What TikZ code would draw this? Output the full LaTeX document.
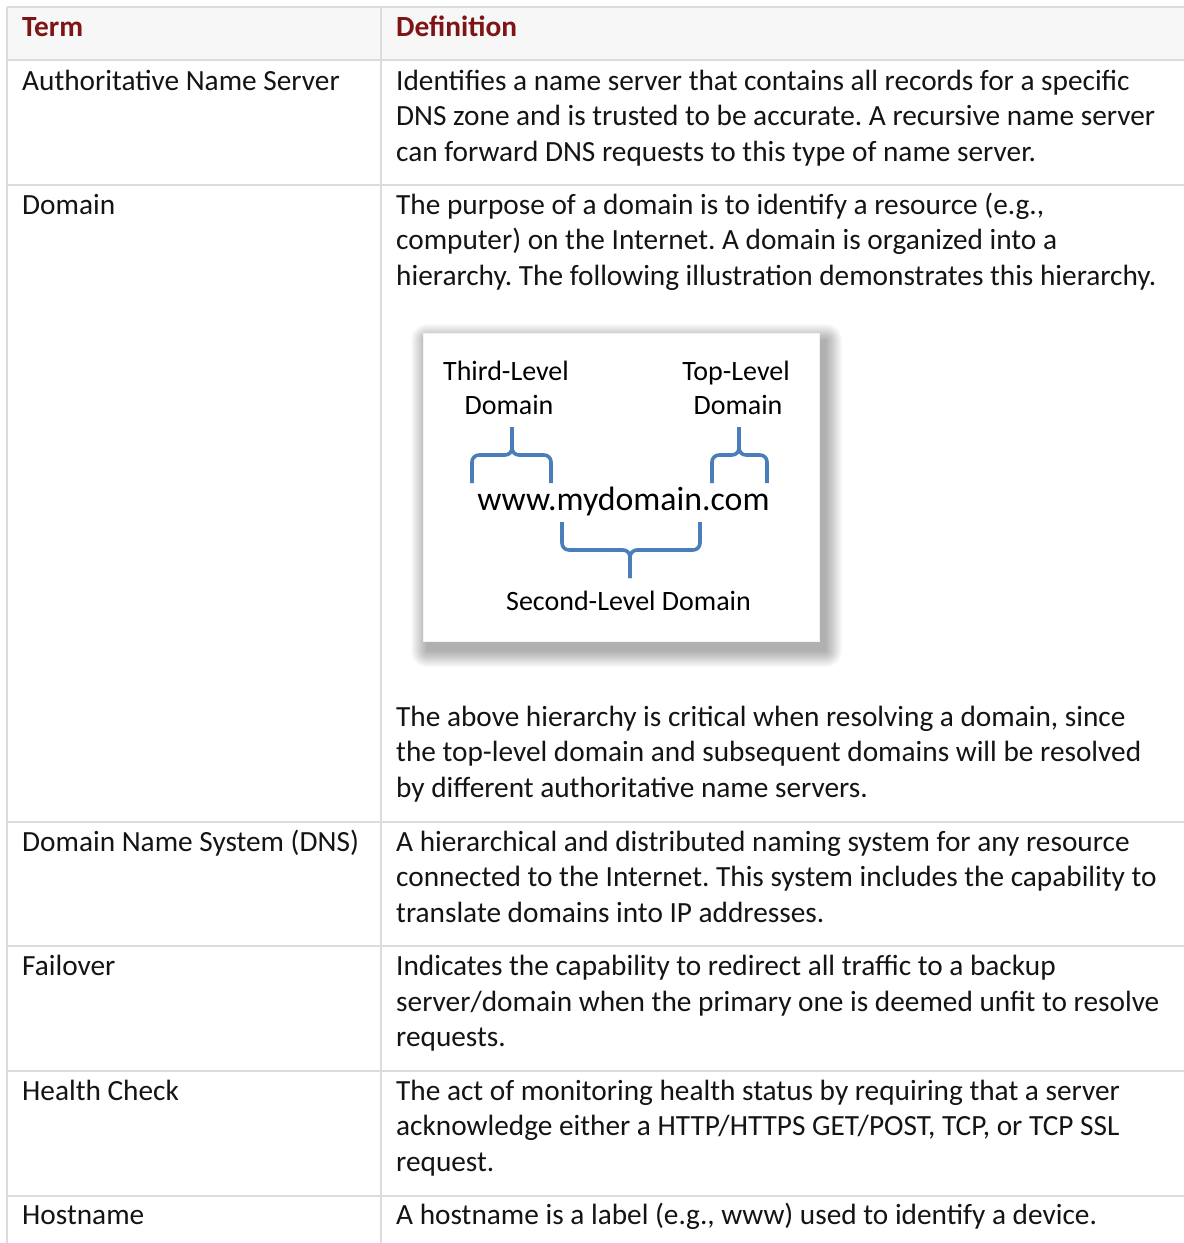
\documentclass[tikz,border=0pt]{standalone}
\usepackage{fontspec}
\setmainfont{Carlito}
\newfontfamily\insetfont{Carlito}
\definecolor{rulegray}{HTML}{DCDCDC}
\definecolor{headfill}{HTML}{F7F7F7}
\definecolor{headred}{HTML}{7E1416}
\definecolor{braceblue}{HTML}{4A7EBB}
\definecolor{bodytext}{HTML}{141414}
\frenchspacing
\begin{document}
\begin{tikzpicture}[x=1pt,y=-1pt,
  txt/.style={anchor=base west,inner sep=0pt,text=bodytext,font=\fontsize{29.3}{35.5}\selectfont},
  head/.style={anchor=base west,inner sep=0pt,text=headred,font=\fontsize{29.3}{35.5}\selectfont\bfseries},
  grid/.style={draw=rulegray,line width=2pt},
  lbl/.style={anchor=base,inner sep=0pt,text=black,font=\insetfont\fontsize{28}{34}\selectfont},
  url/.style={anchor=base,inner sep=0pt,text=black,font=\insetfont\fontsize{33.8}{40}\selectfont},
  brace/.style={draw=braceblue,line width=3.6pt,rounded corners=7pt}]
\useasboundingbox (0,0) rectangle (1184,1243);
\fill[white] (0,0) rectangle (1184,1243);

% header band
\fill[headfill] (7,7) rectangle (1184,60);

% table rules
\draw[grid] (7,7) -- (1184,7);
\foreach \yy in {60,184.5,821.5,946,1071,1195.5}
  \draw[grid] (7,\yy) -- (1184,\yy);
\draw[grid] (7,7) -- (7,1243);
\draw[grid] (381,7) -- (381,1243);

% header
\node[head] (hterm) at (22,36) {Term};
\node[head] (hdef) at (396,36) {Definition};

% Authoritative Name Server
\node[txt] (t1) at (22,90) {Authoritative Name Server};
\node[txt] (d1a) at (396,90) {Identifies a name server that contains all records for a specific};
\node[txt] (d1b) at (396,125.5) {DNS zone and is trusted to be accurate. A recursive name server};
\node[txt] (d1c) at (396,161) {can forward DNS requests to this type of name server.};

% Domain
\node[txt] (t2) at (22,214) {Domain};
\node[txt] (d2a) at (396,214) {The purpose of a domain is to identify a resource (e.g.,};
\node[txt] (d2b) at (396,249.5) {computer) on the Internet. A domain is organized into a};
\node[txt] (d2c) at (396,285) {hierarchy. The following illustration demonstrates this hierarchy.};
\node[txt] (d2d) at (396,726) {The above hierarchy is critical when resolving a domain, since};
\node[txt] (d2e) at (396,761.5) {the top-level domain and subsequent domains will be resolved};
\node[txt] (d2f) at (396,797) {by different authoritative name servers.};

% soft shadow behind the illustration panel
\foreach \r in {0,1,...,16}
  \fill[black,opacity=0.018,rounded corners=\r pt]
    (423+4-\r,333+7-\r) rectangle (819+7+\r,641+10+\r);
\fill[white] (423,333) rectangle (819,641);
\draw[black!5,line width=0.8pt] (423,333) rectangle (819,641);

% illustration: domain levels
\node[lbl] (third1) at (506,380) {Third-Level};
\node[lbl] (third2) at (509,414) {Domain};
\node[lbl] (top1) at (736,380) {Top-Level};
\node[lbl] (top2) at (738,414) {Domain};
\node[url] (fqdn) at (623.5,510) {www.mydomain.com};
\node[lbl] (second) at (628.5,610) {Second-Level Domain};

\coordinate (thirdtip) at (512,427);
\coordinate (toptip) at (739,427);
\coordinate (secondtip) at (630,578);

\draw[brace] (472,483) |- (512,455) -- (thirdtip);
\draw[brace] (551,483) |- (512,455) -- (thirdtip);
\draw[brace] (712,483) |- (739,455) -- (toptip);
\draw[brace] (767,483) |- (739,455) -- (toptip);
\draw[brace] (562,522) |- (630,550) -- (secondtip);
\draw[brace] (700,522) |- (630,550) -- (secondtip);

% Domain Name System (DNS)
\node[txt] (t3) at (22,851) {Domain Name System (DNS)};
\node[txt] (d3a) at (396,851) {A hierarchical and distributed naming system for any resource};
\node[txt] (d3b) at (396,886.5) {connected to the Internet. This system includes the capability to};
\node[txt] (d3c) at (396,922) {translate domains into IP addresses.};

% Failover
\node[txt] (t4) at (22,975.5) {Failover};
\node[txt] (d4a) at (396,975.5) {Indicates the capability to redirect all traffic to a backup};
\node[txt] (d4b) at (396,1011) {server/domain when the primary one is deemed unfit to resolve};
\node[txt] (d4c) at (396,1046.5) {requests.};

% Health Check
\node[txt] (t5) at (22,1100) {Health Check};
\node[txt] (d5a) at (396,1100) {The act of monitoring health status by requiring that a server};
\node[txt] (d5b) at (396,1135.5) {acknowledge either a HTTP/HTTPS GET/POST, TCP, or TCP SSL};
\node[txt] (d5c) at (396,1171) {request.};

% Hostname
\node[txt] (t6) at (22,1224.5) {Hostname};
\node[txt] (d6a) at (396,1224.5) {A hostname is a label (e.g., www) used to identify a device.};
\end{tikzpicture}
\end{document}
